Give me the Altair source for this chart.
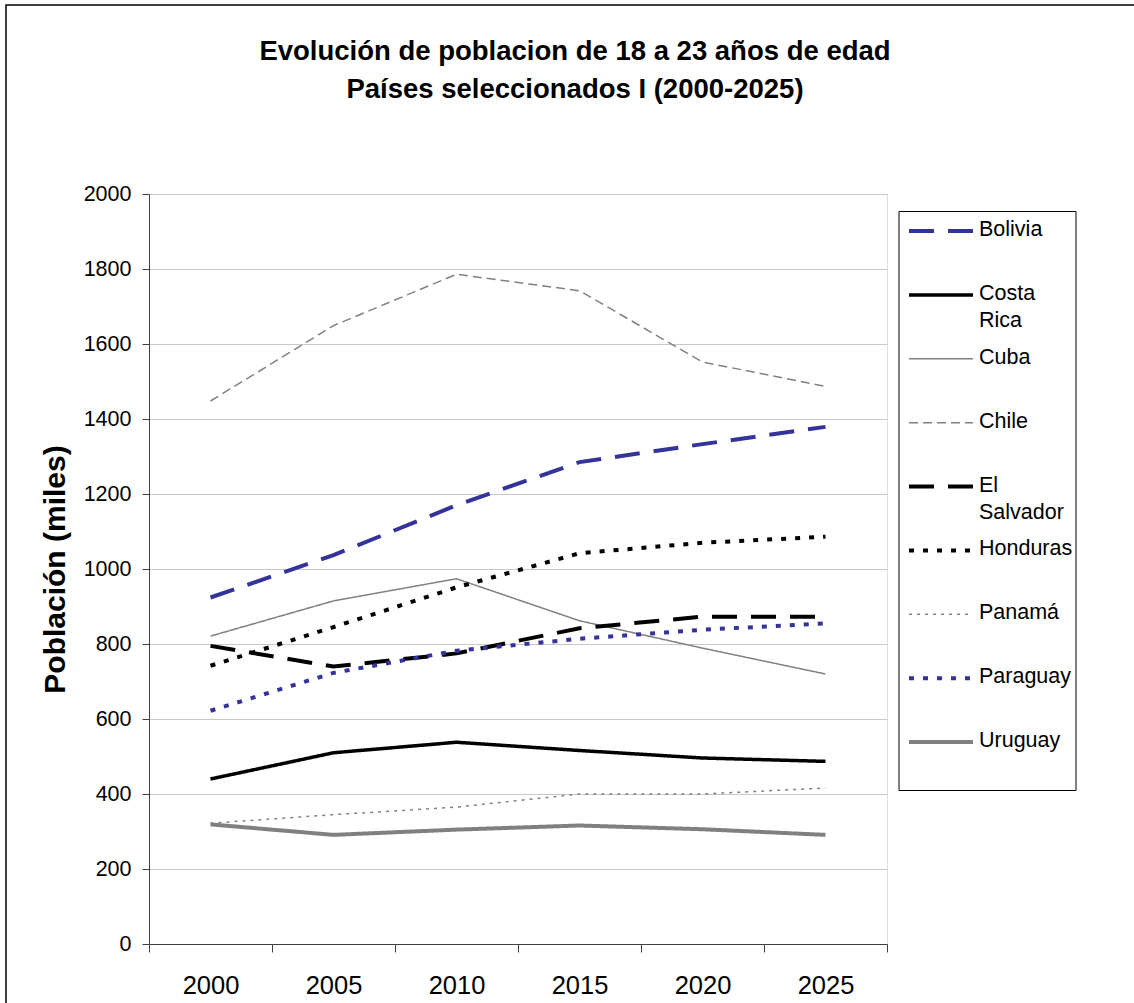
import altair as alt
import pandas as pd

# Population aged 18-23 (thousands), selected countries I, 2000-2025
years = [2000, 2005, 2010, 2015, 2020, 2025]
countries = ["Bolivia", "Costa Rica", "Cuba", "Chile", "El Salvador",
             "Honduras", "Panamá", "Paraguay", "Uruguay"]

bolivia = [924, 1037, 1170, 1285, 1333, 1379]
costa_rica = [440, 510, 538, 516, 496, 487]
cuba = [821, 915, 974, 862, 789, 720]
chile = [1448, 1649, 1786, 1742, 1552, 1487]
el_salvador = [795, 740, 775, 842, 873, 873]
honduras = [742, 845, 951, 1042, 1070, 1086]
panama = [322, 345, 365, 400, 400, 416]
paraguay = [622, 723, 782, 814, 838, 855]
uruguay = [319, 291, 305, 316, 306, 291]

series = [bolivia, costa_rica, cuba, chile, el_salvador,
          honduras, panama, paraguay, uruguay]
y_ticks = [0, 200, 400, 600, 800, 1000, 1200, 1400, 1600, 1800, 2000]

# line styles, one per country
BLUE, BLACK, GREY = "#333399", "#000000", "#808080"
colors = [BLUE, BLACK, GREY, GREY, BLACK, BLACK, GREY, BLUE, GREY]
dashes = [[25, 14], [1, 0], [1, 0], [9, 5], [25, 14],
          [5, 9], [3, 5], [5, 9], [1, 0]]
widths = [4, 3.5, 1.5, 1.5, 4, 4, 1.5, 4, 4]

df = pd.DataFrame(
    [{"name": c, "year": y, "value": v}
     for c, vals in zip(countries, series) for y, v in zip(years, vals)]
)
names_df = pd.DataFrame({"name": countries})
one_row = pd.DataFrame({"k": [0]})

FONT = "Liberation Sans"
AXIS_COLOR = "#404040"

x_enc = alt.X(
    "year:O",
    bandPosition=0.5,
    scale=alt.Scale(type="band", paddingInner=0, paddingOuter=0),
    axis=alt.Axis(
        title=None, labelAngle=0, labelFontSize=25.5, labelFont=FONT,
        labelColor="black", labelPadding=21, tickBand="extent", tickSize=8,
        tickColor=AXIS_COLOR, domainColor=AXIS_COLOR, grid=False,
    ),
)
y_enc = alt.Y(
    "value:Q",
    scale=alt.Scale(domain=[0, 2000], nice=False, zero=True),
    axis=alt.Axis(
        values=y_ticks, format="d", labelFontSize=21.5, labelFont=FONT,
        labelColor="black", labelPadding=11, tickSize=7, tickColor=AXIS_COLOR,
        domainColor=AXIS_COLOR, gridColor="#c8c8c8", gridWidth=1,
        title="Población (miles)", titleFont=FONT, titleFontSize=30,
        titleFontWeight="bold", titleColor="black", titleX=-85, titleY=375,
        titleAlign="center", titleBaseline="alphabetic", titleAngle=270,
    ),
)

line_layers = [
    alt.Chart(df)
    .transform_filter(alt.datum.name == c)
    .mark_line(color=col, strokeDash=d, strokeWidth=w, strokeCap="butt")
    .encode(x=x_enc, y=y_enc)
    for c, col, d, w in zip(countries, colors, dashes, widths)
]
lines = alt.layer(*line_layers)

# legend: one row per country on its own point scale
leg_y = alt.Y(
    "name:N",
    scale=alt.Scale(type="point", domain=countries, range=[37, 548], padding=0),
    axis=None,
)
legend_box = alt.Chart(one_row).mark_rect(
    filled=False, stroke="black", strokeWidth=1
).encode(x=alt.value(750), x2=alt.value(927), y=alt.value(17.5), y2=alt.value(596.5))

legend_swatches = [
    alt.Chart(names_df)
    .transform_filter(alt.datum.name == c)
    .mark_rule(color=col, strokeDash=d, strokeWidth=w, strokeCap="butt")
    .encode(x=alt.value(760), x2=alt.value(824), y=leg_y)
    for c, col, d, w in zip(countries, colors, dashes, widths)
]
legend_labels = alt.Chart(names_df).mark_text(
    align="left", baseline="top", dy=-12, fontSize=21.5, font=FONT,
    color="black", lineBreak=" ", lineHeight=27.5,
).encode(x=alt.value(830), y=leg_y, text="name:N")

# outer frame of the whole figure
frame = alt.Chart(one_row).mark_rect(
    filled=False, stroke="black", strokeWidth=1.5
).encode(x=alt.value(-143), x2=alt.value(1010), y=alt.value(-189), y2=alt.value(900))

legend = alt.layer(frame, legend_box, *legend_swatches, legend_labels)

chart = (
    alt.layer(lines, legend)
    .resolve_scale(y="independent")
    .properties(
        width=738,
        height=750,
        autosize=alt.AutoSizeParams(type="none"),
        padding={"left": 149, "top": 194, "right": 247, "bottom": 59},
        title=alt.TitleParams(
            ["Evolución de poblacion de 18 a 23 años de edad",
             "Países seleccionados I (2000-2025)"],
            font=FONT, fontSize=27.5, fontWeight="bold", color="black",
            anchor="middle", dx=57, offset=-99, lineHeight=38,
        ),
    )
    .configure_view(stroke=None)
    .configure(background="white")
)

chart.save("out.html", embed_options={"renderer": "svg", "actions": False})
